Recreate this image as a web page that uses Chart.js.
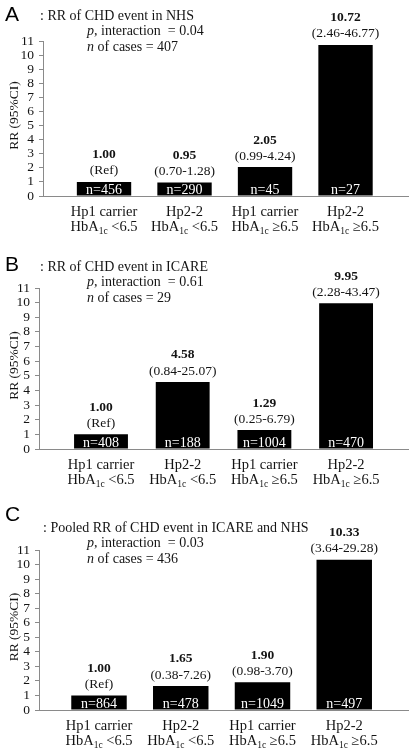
<!DOCTYPE html>
<html>
<head>
<meta charset="utf-8">
<script src="https://cdn.jsdelivr.net/npm/chart.js@4.4.1/dist/chart.umd.min.js"></script>
<style>
  body { margin: 0; background: #fff; }
  .panel { position: absolute; left: 0; width: 409px; height: 250px; }
  canvas { display: block; }
</style>
</head>
<body>
<div class="panel" style="top:0px"><canvas id="chartA" width="409" height="250"></canvas></div>
<div class="panel" style="top:250px"><canvas id="chartB" width="409" height="250"></canvas></div>
<div class="panel" style="top:500px"><canvas id="chartC" width="409" height="250"></canvas></div>
<script>
// categories
var groupNames = ["Hp1 carrier", "Hp2-2", "Hp1 carrier", "Hp2-2"];
var hba1cCut = ["<6.5", "<6.5", "\u22656.5", "\u22656.5"];
var yTickMax = 11;

// A: NHS
var rrNHS = [1.00, 0.95, 2.05, 10.72];
var ciNHS = ["(Ref)", "(0.70-1.28)", "(0.99-4.24)", "(2.46-46.77)"];
var nNHS = [456, 290, 45, 27];

// B: ICARE
var rrICARE = [1.00, 4.58, 1.29, 9.95];
var ciICARE = ["(Ref)", "(0.84-25.07)", "(0.25-6.79)", "(2.28-43.47)"];
var nICARE = [408, 188, 1004, 470];

// C: pooled
var rrPooled = [1.00, 1.65, 1.90, 10.33];
var ciPooled = ["(Ref)", "(0.38-7.26)", "(0.98-3.70)", "(3.64-29.28)"];
var nPooled = [864, 478, 1049, 497];

var SERIF = '"Liberation Serif", "Times New Roman", serif';
var AXIS_GREY = "#8a8a8a";
var TEXT = "#141414";

function makePanel(canvasId, p) {
  var labelsPlugin = {
    id: "panelText",
    afterDraw: function (chart) {
      var ctx = chart.ctx;
      var xs = chart.scales.x, ys = chart.scales.y;
      var area = chart.chartArea;
      ctx.save();

      // panel letter
      ctx.fillStyle = "#000";
      ctx.font = '21px "Liberation Sans", Arial, sans-serif';
      ctx.textAlign = "left";
      ctx.textBaseline = "alphabetic";
      ctx.fillText(p.letter, 5, 21);

      // title block
      ctx.fillStyle = TEXT;
      ctx.textBaseline = "middle";
      ctx.font = "14px " + SERIF;
      ctx.fillText(p.title, p.titleX, p.titleY);
      var x2 = 87;
      ctx.font = "italic 14px " + SERIF;
      ctx.fillText("p", x2, p.titleY + 15);
      var w = ctx.measureText("p").width;
      ctx.font = "14px " + SERIF;
      ctx.fillText(", interaction  = " + p.pval, x2 + w, p.titleY + 15);
      ctx.font = "italic 14px " + SERIF;
      ctx.fillText("n", x2, p.titleY + 31);
      w = ctx.measureText("n").width;
      ctx.font = "14px " + SERIF;
      ctx.fillText(" of cases = " + p.cases, x2 + w, p.titleY + 31);

      // y axis title
      ctx.save();
      ctx.translate(14, (area.top + area.bottom) / 2 - 3);
      ctx.rotate(-Math.PI / 2);
      ctx.textAlign = "center";
      ctx.font = "13.5px " + SERIF;
      ctx.fillText("RR (95%CI)", 0, 0);
      ctx.restore();

      ctx.textAlign = "center";
      for (var i = 0; i < p.rr.length; i++) {
        var cx = xs.getPixelForValue(i);
        var top = ys.getPixelForValue(p.rr[i]);
        // value + CI above bar
        ctx.fillStyle = TEXT;
        ctx.font = "bold 13.5px " + SERIF;
        ctx.fillText(p.rr[i].toFixed(2), cx, top - 27);
        ctx.font = "13.5px " + SERIF;
        ctx.fillText(p.ci[i], cx, top - 11);
        // n inside bar
        ctx.fillStyle = "#fff";
        ctx.font = "14px " + SERIF;
        ctx.fillText("n=" + p.n[i], cx, area.bottom - 6);

        // category labels
        ctx.fillStyle = TEXT;
        ctx.font = "14.5px " + SERIF;
        ctx.fillText(groupNames[i], cx, area.bottom + 16);
        var a = "HbA", sub = "1c", rest = " " + hba1cCut[i];
        var wa = ctx.measureText(a).width, wr = ctx.measureText(rest).width;
        ctx.font = "9.5px " + SERIF;
        var ws = ctx.measureText(sub).width;
        var sx = cx - (wa + ws + wr) / 2;
        var ly = area.bottom + 31;
        ctx.textAlign = "left";
        ctx.font = "14.5px " + SERIF;
        ctx.fillText(a, sx, ly);
        ctx.font = "9.5px " + SERIF;
        ctx.fillText(sub, sx + wa, ly + 4);
        ctx.font = "14.5px " + SERIF;
        ctx.fillText(rest, sx + wa + ws, ly);
        ctx.textAlign = "center";
      }
      ctx.restore();
    }
  };

  return new Chart(document.getElementById(canvasId), {
    type: "bar",
    data: {
      datasets: [{
        data: p.rr.map(function (v, i) { return { x: i, y: v }; }),
        backgroundColor: "#000",
        borderWidth: 0,
        barPercentage: 0.87,
        categoryPercentage: 1.0
      }]
    },
    options: {
      responsive: false,
      animation: false,
      devicePixelRatio: 1,
      layout: { padding: { top: p.top, bottom: 250 - p.bottom, left: 0, right: 1 } },
      plugins: { legend: { display: false }, tooltip: { enabled: false } },
      scales: {
        x: {
          type: "linear",
          min: p.xMin,
          max: p.xMax,
          offset: false,
          ticks: { display: false },
          grid: { display: false },
          border: { display: true, color: AXIS_GREY, width: 1 },
          afterFit: function (s) { s.height = 0; }
        },
        y: {
          min: 0,
          max: yTickMax,
          ticks: {
            stepSize: 1,
            autoSkip: false,
            padding: 5,
            color: TEXT,
            font: { family: SERIF, size: 13.5 }
          },
          grid: { display: true, drawOnChartArea: false, drawTicks: true, tickLength: 4, color: AXIS_GREY },
          border: { display: true, color: AXIS_GREY, width: 1 },
          afterFit: function (s) { s.width = p.axisX; }
        }
      }
    },
    plugins: [labelsPlugin]
  });
}

makePanel("chartA", {
  letter: "A", title: ": RR of CHD event in NHS", titleX: 40, titleY: 16,
  pval: "0.04", cases: "407",
  rr: rrNHS, ci: ciNHS, n: nNHS,
  axisX: 43, top: 41, bottom: 196, xMin: -0.758, xMax: 3.776
});
makePanel("chartB", {
  letter: "B", title: ": RR of CHD event in ICARE", titleX: 40, titleY: 17,
  pval: "0.61", cases: "29",
  rr: rrICARE, ci: ciICARE, n: nICARE,
  axisX: 39, top: 38, bottom: 199, xMin: -0.759, xMax: 3.758
});
makePanel("chartC", {
  letter: "C", title: ": Pooled RR of CHD event in ICARE and NHS", titleX: 43, titleY: 28,
  pval: "0.03", cases: "436",
  rr: rrPooled, ci: ciPooled, n: nPooled,
  axisX: 39, top: 50, bottom: 210, xMin: -0.734, xMax: 3.78
});
</script>
</body>
</html>
